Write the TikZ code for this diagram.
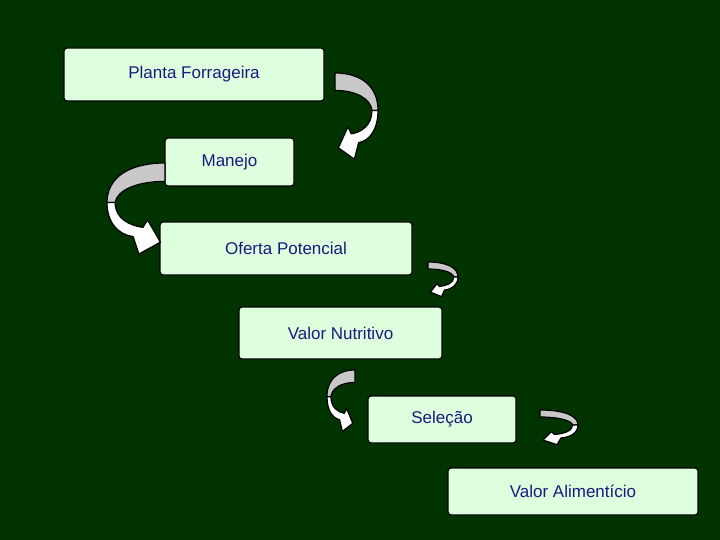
\documentclass[tikz,border=0pt]{standalone}
\usepackage{fontspec}
\setmainfont{Liberation Sans}
\definecolor{bg}{HTML}{003300}
\definecolor{boxf}{HTML}{DDFFDD}
\definecolor{txt}{HTML}{1A1A80}
\definecolor{arrg}{HTML}{C8C8C8}
\newcommand{\curvarrow}[4]{%
\begin{scope}[shift={(#1,#2)},xscale=#3,yscale=#4,line width=1.2pt,line join=round]
\fill[arrg,draw=black] (0,0) .. controls (0.6,0) and (1,0.15) .. (1,0.43) -- (0.86,0.43) .. controls (0.83,0.3) and (0.5,0.2) .. (0,0.2) -- cycle;
\fill[white,draw=black] (1,0.43) .. controls (1,0.65) and (0.8,0.78) .. (0.55,0.8) -- (0.45,0.99) -- (0.08,0.86) -- (0.3,0.62) -- (0.38,0.7) .. controls (0.62,0.68) and (0.86,0.6) .. (0.86,0.43) -- cycle;
\end{scope}}
\begin{document}
\begin{tikzpicture}[x=1pt,y=-1pt,
  bx/.style={draw=black,line width=1.2pt,fill=boxf,rounded corners=3pt,text=txt,font=\fontsize{17}{20}\selectfont}]
\fill[bg] (0,0) rectangle (720,540);
\useasboundingbox (0,0) rectangle (720,540);
\node[bx,minimum width=260pt,minimum height=53pt] (a) at (194,74.5) {Planta Forrageira};
\node[bx,minimum width=129pt,minimum height=48pt] (b) at (229.5,162) {Manejo};
\node[bx,minimum width=252pt,minimum height=53pt] (c) at (286,248.5) {Oferta Potencial};
\node[bx,minimum width=203pt,minimum height=52pt] (d) at (340.5,333) {Valor Nutritivo};
\node[bx,minimum width=148pt,minimum height=47pt] (e) at (442,419.5) {Seleção};
\node[bx,minimum width=250pt,minimum height=47pt] (f) at (573,491.5) {Valor Alimentício};
\curvarrow{335}{73}{43}{87}
\curvarrow{165}{163}{-58}{92}
\curvarrow{428}{262}{30}{35}
\curvarrow{355}{370}{-28}{62}
\curvarrow{540}{410}{38}{35}
\end{tikzpicture}
\end{document}
